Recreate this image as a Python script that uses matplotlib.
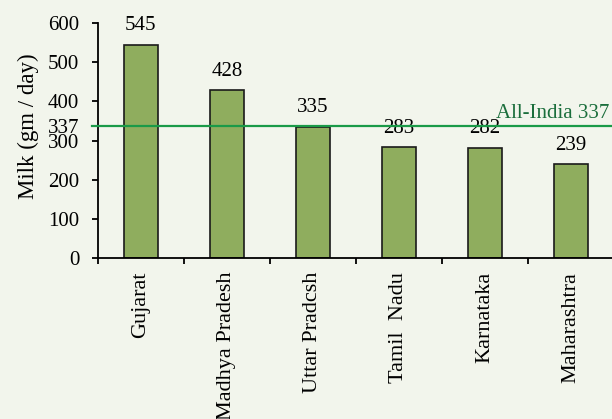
import numpy as np
import matplotlib.pyplot as plt

plt.rcParams['font.family'] = ['Liberation Serif', 'DejaVu Serif']

states = ['Gujarat', 'Madhya Pradesh', 'Uttar Pradcsh', 'Tamil  Nadu', 'Karnataka', 'Maharashtra']
milk = [545, 428, 335, 283, 282, 239]
all_india = 337
yticks = [0, 100, 200, 300, 337, 400, 500, 600]

bg = '#F2F5EC'
fig = plt.figure(figsize=(6.12, 4.19), dpi=100, facecolor=bg)
ax = fig.add_axes([0.160, 0.384, 0.843, 0.561], facecolor=bg)

x = np.arange(len(states))
ax.bar(x, milk, width=0.4, color='#8FAD5E', edgecolor='#1A1A1A', linewidth=1.2, zorder=2)
for xi, v in zip(x, milk):
    ax.annotate(str(v), (xi, v), xytext=(0, 7), textcoords='offset points',
                ha='center', va='bottom', fontsize=15)

ax.plot([-0.57, 5.5], [all_india, all_india], color='#1A9A48', linewidth=1.6,
        clip_on=False, zorder=3)
ax.annotate('All-India 337', (5.45, all_india), xytext=(0, 2), textcoords='offset points',
            ha='right', va='bottom', fontsize=15, color='#1B6E3C')

ax.set_xlim(-0.5, 5.5)
ax.set_ylim(0, 600)
ax.set_yticks(yticks)
ax.set_yticklabels([str(t) for t in yticks], fontsize=15)
ax.set_xticks(np.arange(-0.5, 6, 1))
ax.set_xticklabels([])
ax.set_xticks(x, minor=True)
ax.set_xticklabels(states, minor=True, rotation=90, fontsize=16, va='top')
ax.tick_params(axis='x', which='minor', length=0, pad=10)
ax.tick_params(axis='both', which='major', length=4.5, width=1.3, direction='out')
ax.tick_params(axis='y', pad=9)
for s in ['top', 'right']:
    ax.spines[s].set_visible(False)
for s in ['left', 'bottom']:
    ax.spines[s].set_linewidth(1.3)
ax.set_ylabel('Milk (gm / day)', fontsize=16.5, labelpad=6, y=0.56)

fig.savefig('out.png', dpi=100, facecolor=bg)
